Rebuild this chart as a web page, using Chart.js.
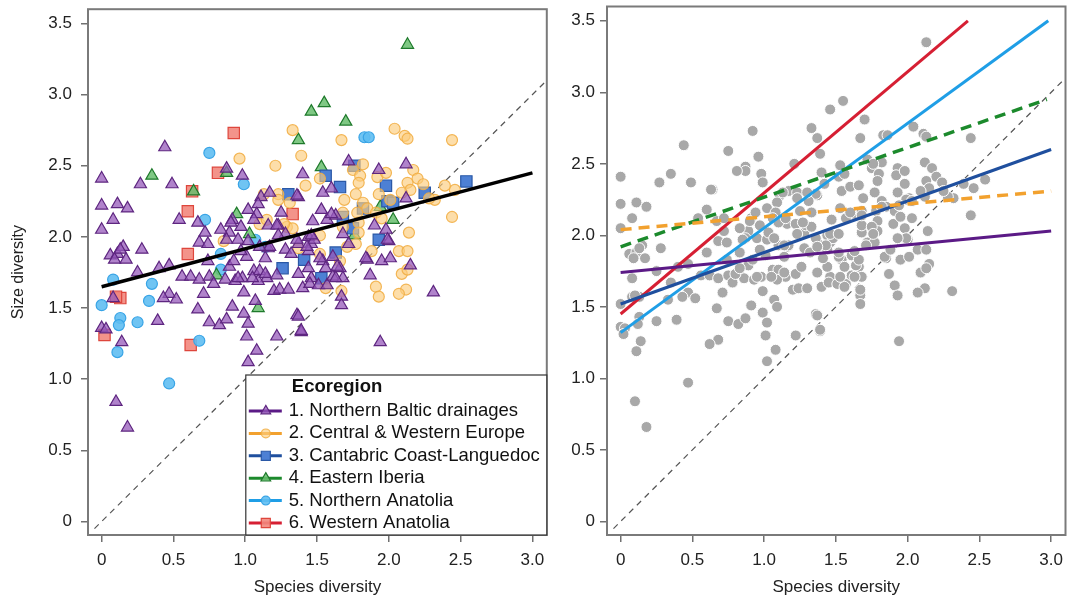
<!DOCTYPE html>
<html>
<head>
<meta charset="utf-8">
<title>Size vs species diversity by ecoregion</title>
<script src="https://cdn.jsdelivr.net/npm/chart.js@4.4.1/dist/chart.umd.min.js"></script>
<style>
  html, body { margin: 0; padding: 0; background: #fff; }
  #wrap { position: relative; width: 1072px; height: 602px; }
  #left-box { position: absolute; left: 0; top: 0; width: 556px; height: 602px; }
  #right-box { position: absolute; left: 556px; top: 0; width: 516px; height: 602px; }
</style>
</head>
<body>
<div id="wrap">
  <div id="left-box"><canvas id="left-chart"></canvas></div>
  <div id="right-box"><canvas id="right-chart"></canvas></div>
</div>
<script>
// Size diversity vs species diversity, two panels
// left: points by ecoregion + overall fit, right: all points grey + per-region fits

const ecoregionNames = [
  '1. Northern Baltic drainages',
  '2. Central & Western Europe',
  '3. Cantabric Coast-Languedoc',
  '4. Eastern Iberia',
  '5. Northern Anatolia',
  '6. Western Anatolia'
];

// [species diversity, size diversity]
const baltic = [
  [0.00,2.41],[0.44,2.63],[0.27,2.37],[0.49,2.37],[0.87,2.48],[0.98,2.43],[1.11,2.28],[1.17,2.31],
  [0.00,2.22],[0.11,2.23],[0.18,2.20],[0.08,2.12],[0.00,2.05],[0.54,2.12],[0.67,2.10],[0.72,2.03],
  [0.68,1.96],[0.74,1.95],[0.06,1.87],[0.11,1.88],[0.15,1.93],[0.13,1.91],[0.17,1.84],[0.28,1.91],
  [0.09,1.84],[0.25,1.75],[0.40,1.78],[0.47,1.80],[0.56,1.72],[0.62,1.72],[0.68,1.70],[0.75,1.72],
  [0.47,1.60],[0.43,1.57],[0.52,1.56],[0.71,1.60],[0.08,1.57],[0.67,1.49],[0.39,1.41],[0.00,1.36],
  [0.03,1.35],[0.14,1.26],[0.75,1.40],[0.82,1.38],[0.87,1.42],[0.91,1.51],[0.99,1.46],[1.02,1.39],
  [1.07,1.55],[1.01,1.30],[1.08,1.20],[1.02,1.12],[0.86,1.70],[0.93,1.69],[0.98,1.71],[1.06,1.76],
  [1.10,1.76],[1.15,1.71],[1.20,1.62],[1.24,1.63],[1.30,1.63],[1.36,1.45],[1.39,1.33],[1.22,1.30],
  [0.89,1.79],[0.89,2.03],[0.95,1.98],[1.02,1.97],[1.01,1.86],[0.91,2.12],[1.02,2.19],[1.09,2.23],
  [1.25,2.17],[1.23,2.08],[1.28,2.02],[1.37,1.95],[1.28,1.91],[1.32,1.88],[1.46,1.95],[1.44,1.90],
  [1.16,1.92],[1.14,1.85],[1.09,1.69],[1.46,1.71],[1.40,1.64],[1.54,2.31],[1.60,2.34],[1.53,2.19],
  [1.47,2.11],[1.57,2.12],[1.63,2.15],[1.37,2.28],[1.44,2.00],[1.48,1.98],[1.68,2.02],[1.72,1.95],
  [1.90,2.08],[1.98,2.05],[2.00,1.97],[2.12,2.27],[1.54,1.83],[1.37,1.74],[1.45,1.67],[1.51,1.66],
  [1.57,1.66],[1.61,1.72],[1.66,1.78],[1.68,1.71],[1.67,1.58],[1.67,1.52],[1.85,1.84],[1.95,1.83],
  [2.01,1.85],[2.15,1.80],[1.87,1.73],[2.31,1.61],[1.37,1.44],[1.39,1.34],[1.94,1.26],[0.10,0.84],
  [0.18,0.66],[2.12,2.51],[1.93,2.47],[1.72,2.53],[1.40,2.44],[1.36,2.29],[1.08,2.16],[1.06,2.12],
  [0.97,2.07],[0.90,2.10],[0.83,2.05],[0.87,1.98],[1.16,2.08],[1.22,2.08],[1.23,2.01],[1.17,1.93],
  [1.10,1.93],[0.97,1.90],[1.36,1.98],[1.43,1.93],[1.46,2.01],[1.52,1.85],[1.44,1.78],[1.22,1.73],
  [1.14,1.74],[1.05,1.71],[0.95,1.71],[0.78,1.67],[0.92,1.83],[0.74,1.83],[1.60,2.16],[1.99,1.98],
  [1.61,1.86],[1.84,1.85],[1.56,1.78],[1.64,1.79],[1.63,1.71],[0.99,1.61]
];
const centralWest = [
  [0.96,2.55],[1.21,2.50],[1.13,2.30],[1.33,2.75],[1.67,2.68],[2.04,2.76],[2.11,2.71],[2.13,2.69],
  [2.44,2.68],[1.39,2.57],[1.82,2.51],[1.42,2.36],[1.75,2.47],[1.80,2.43],[1.92,2.42],[2.17,2.47],
  [2.20,2.41],[2.13,2.38],[2.24,2.37],[2.46,2.33],[1.79,2.38],[1.23,2.30],[1.69,2.26],[1.98,2.45],
  [2.15,2.33],[2.09,2.31],[1.77,2.30],[1.93,2.30],[1.82,2.24],[2.01,2.26],[1.85,2.20],[1.91,2.17],
  [1.78,2.17],[1.68,2.17],[2.32,2.26],[2.44,2.14],[1.95,2.13],[1.79,2.10],[1.68,2.07],[1.79,2.03],
  [2.14,2.03],[1.77,1.95],[1.71,1.93],[1.88,1.90],[2.07,1.90],[2.13,1.90],[2.09,1.74],[1.66,1.83],
  [1.91,1.65],[2.12,1.63],[1.56,1.64],[1.93,1.58],[2.07,1.60],[1.52,1.88],[1.37,1.92],[1.67,1.62],
  [1.52,2.41],[1.23,2.26],[1.31,2.24],[1.10,2.09],[1.15,2.12],[1.29,2.07],[1.33,2.06],[1.27,2.09],
  [1.52,2.01],[0.85,1.97],[2.39,2.36],[2.28,2.27],[2.13,1.77]
];
const cantabric = [
  [1.76,2.50],[1.56,2.43],[1.66,2.35],[1.98,2.36],[2.25,2.31],[2.54,2.39],[1.30,2.30],[1.99,2.25],
  [2.03,2.24],[1.82,2.20],[1.68,2.14],[1.75,2.06],[1.93,1.98],[1.63,1.89],[1.41,1.84],[1.53,1.71],
  [1.26,1.78]
];
const easternIberia = [
  [0.35,2.43],[0.87,2.45],[0.64,2.32],[2.13,3.35],[1.55,2.94],[1.46,2.88],[1.70,2.81],[1.37,2.68],
  [1.53,2.49],[1.94,2.21],[2.03,2.12],[0.94,2.16],[1.03,2.02],[0.80,1.73],[1.09,1.50],[1.76,2.01]
];
const northAnatolia = [
  [0.75,2.59],[0.99,2.37],[1.83,2.70],[1.86,2.70],[0.72,2.12],[0.83,1.88],[0.83,1.77],[0.08,1.70],
  [0.35,1.67],[0.33,1.55],[0.00,1.52],[0.13,1.43],[0.12,1.38],[0.25,1.40],[0.68,1.27],[0.11,1.19],
  [0.47,0.97],[1.07,1.98],[1.14,1.93]
];
const westAnatolia = [
  [0.92,2.73],[0.81,2.45],[0.63,2.32],[0.60,2.18],[0.60,1.88],[0.13,1.57],[0.10,1.58],[1.33,2.16],
  [0.02,1.31],[0.62,1.24]
];

// overall fit (left) and per-region fits (right): start / end of each segment
const overallFitX = [0, 3.0];
const overallFitY = [1.65, 2.45];
const regionFitX0 = [0, 0, 0, 0, 0, 0];
const regionFitY0 = [1.74, 2.04, 1.52, 1.92, 1.32, 1.45];
const regionFitX1 = [3.0, 3.0, 3.0, 2.97, 2.98, 2.42];
const regionFitY1 = [2.03, 2.31, 2.60, 2.95, 3.50, 3.50];
const oneToOne = [-0.05, 3.1];

const xTicks = [0, 0.5, 1.0, 1.5, 2.0, 2.5, 3.0];
const yTicks = [0, 0.5, 1.0, 1.5, 2.0, 2.5, 3.0, 3.5];

const groups = [baltic, centralWest, cantabric, easternIberia, northAnatolia, westAnatolia];

const FONT = "'Liberation Sans', Arial, sans-serif";
const X_MIN = -0.095, X_MAX = 3.1, Y_MIN = -0.095, Y_MAX = 3.6;

const groupStyles = [
  { shape: 'triangle', r: 7,   fill: 'rgba(150, 90, 185, 0.75)', edge: '#5e2680', line: '#5b1a86', dash: [] },
  { shape: 'circle',   r: 5.5, fill: 'rgba(252, 205, 125, 0.65)', edge: 'rgba(242, 175, 70, 0.9)', line: '#f2a12e', dash: [11, 7] },
  { shape: 'rect',     r: 8,   fill: '#4d80d4', edge: '#2a58a6', line: '#1f4f9e', dash: [] },
  { shape: 'triangle', r: 7,   fill: 'rgba(105, 190, 110, 0.85)', edge: '#1f7a2c', line: '#1c8a2c', dash: [11, 7] },
  { shape: 'circle',   r: 5.5, fill: 'rgba(95, 190, 242, 0.9)', edge: '#38a4e6', line: '#1f9ee6', dash: [] },
  { shape: 'rect',     r: 8,   fill: 'rgba(242, 135, 125, 0.9)', edge: '#de463c', line: '#d61f33', dash: [] }
];

function toXY(pts) {
  return pts.map(p => ({ x: p[0], y: p[1] }));
}

function segment(x0, y0, x1, y1) {
  return [{ x: x0, y: y0 }, { x: x1, y: y1 }];
}

function tickLabel(v) {
  return v === 0 ? '0' : v.toFixed(1);
}

function xAxis() {
  return {
    type: 'linear',
    min: X_MIN,
    max: X_MAX,
    afterBuildTicks: s => { s.ticks = xTicks.map(v => ({ value: v })); },
    afterFit: s => { s.height = 67; s.paddingLeft = 0; s.paddingRight = 0; },
    grid: { display: true, drawOnChartArea: false, drawTicks: true, tickLength: 7, color: '#707070', lineWidth: 1.5 },
    border: { display: false },
    ticks: { autoSkip: false, maxRotation: 0, padding: 8, color: '#222', font: { size: 17, family: FONT }, callback: tickLabel },
    title: { display: true, text: 'Species diversity', color: '#222', font: { size: 17, family: FONT }, padding: { top: 0, bottom: 4 } }
  };
}

function yAxis(width, pad, withTitle) {
  return {
    type: 'linear',
    min: Y_MIN,
    max: Y_MAX,
    afterBuildTicks: s => { s.ticks = yTicks.map(v => ({ value: v })); },
    afterFit: s => { s.width = width; s.paddingTop = 0; s.paddingBottom = 0; },
    grid: { display: true, drawOnChartArea: false, drawTicks: true, tickLength: 7, color: '#707070', lineWidth: 1.5 },
    border: { display: false },
    ticks: { autoSkip: false, padding: pad, color: '#222', font: { size: 17, family: FONT }, callback: tickLabel },
    title: { display: withTitle, text: 'Size diversity', color: '#222', font: { size: 16, family: FONT }, padding: { top: 9, bottom: 0 } }
  };
}

// box round the plot area
const framePlugin = {
  id: 'frame',
  afterDatasetsDraw(chart) {
    const a = chart.chartArea;
    const ctx = chart.ctx;
    ctx.save();
    ctx.strokeStyle = '#7a7a7a';
    ctx.lineWidth = 2;
    ctx.strokeRect(a.left, a.top, a.right - a.left, a.bottom - a.top);
    ctx.restore();
  }
};

// legend box in the lower right of the left panel
const legendPlugin = {
  id: 'ecoLegend',
  afterDatasetsDraw(chart) {
    const a = chart.chartArea;
    const ctx = chart.ctx;
    const w = 301, h = 160;
    const x0 = a.right - w, y0 = a.bottom - h;
    ctx.save();
    ctx.fillStyle = '#fff';
    ctx.fillRect(x0, y0, w, h);
    ctx.strokeStyle = '#333';
    ctx.lineWidth = 1.2;
    ctx.strokeRect(x0, y0, w, h);
    ctx.textBaseline = 'middle';
    ctx.textAlign = 'left';
    ctx.fillStyle = '#111';
    ctx.font = 'bold 18.5px ' + FONT;
    ctx.fillText('Ecoregion', x0 + 46, y0 + 12);
    ctx.font = '18.5px ' + FONT;
    ecoregionNames.forEach((name, i) => {
      const st = groupStyles[i];
      const y = y0 + 36 + i * 22.4;
      ctx.strokeStyle = st.line;
      ctx.lineWidth = 3;
      ctx.beginPath();
      ctx.moveTo(x0 + 3, y);
      ctx.lineTo(x0 + 36, y);
      ctx.stroke();
      ctx.fillStyle = st.fill;
      ctx.strokeStyle = st.edge;
      ctx.lineWidth = 1.2;
      Chart.helpers.drawPoint(ctx, { pointStyle: st.shape, radius: st.r * 0.8, rotation: 0, borderWidth: 1.2 }, x0 + 20, y);
      ctx.fillStyle = '#111';
      ctx.fillText(name, x0 + 43, y);
    });
    ctx.restore();
  }
};

document.addEventListener('DOMContentLoaded', function () {
  // ---- left panel ----
  const leftSets = [];
  leftSets.push({
    label: 'Overall fit',
    data: segment(overallFitX[0], overallFitY[0], overallFitX[1], overallFitY[1]),
    showLine: true, borderColor: '#000', borderWidth: 3.5, pointRadius: 0
  });
  groups.forEach((pts, i) => {
    const st = groupStyles[i];
    leftSets.push({
      label: ecoregionNames[i],
      data: toXY(pts),
      pointStyle: st.shape,
      pointRadius: st.r,
      pointHoverRadius: st.r,
      backgroundColor: st.fill,
      borderColor: st.edge,
      pointBorderWidth: 1.2
    });
  });
  leftSets.push({
    label: '1:1',
    data: segment(oneToOne[0], oneToOne[0], oneToOne[1], oneToOne[1]),
    showLine: true, borderColor: '#555', borderWidth: 1.2, borderDash: [6, 5], pointRadius: 0
  });

  new Chart(document.getElementById('left-chart'), {
    type: 'scatter',
    data: { datasets: leftSets },
    options: {
      responsive: true,
      maintainAspectRatio: false,
      animation: false,
      layout: { padding: { top: 3, right: 8, left: 0, bottom: 0 } },
      plugins: { legend: { display: false }, tooltip: { enabled: false } },
      scales: { x: xAxis(), y: yAxis(88, 9, true) }
    },
    plugins: [framePlugin, legendPlugin]
  });

  // ---- right panel ----
  const rightSets = [];
  groups.forEach((pts, i) => {
    const st = groupStyles[i];
    rightSets.push({
      label: ecoregionNames[i] + ' fit',
      data: segment(regionFitX0[i], regionFitY0[i], regionFitX1[i], regionFitY1[i]),
      showLine: true, borderColor: st.line, borderWidth: st.dash.length ? 3.5 : 3,
      borderDash: st.dash, pointRadius: 0
    });
  });
  rightSets.push({
    label: 'All sites',
    data: toXY([].concat(...groups)),
    pointStyle: 'circle',
    pointRadius: 5.5,
    backgroundColor: '#a8a8a8',
    borderColor: '#ffffff',
    pointBorderWidth: 1
  });
  rightSets.push({
    label: '1:1',
    data: segment(oneToOne[0], oneToOne[0], oneToOne[1], oneToOne[1]),
    showLine: true, borderColor: '#555', borderWidth: 1.2, borderDash: [6, 5], pointRadius: 0
  });

  new Chart(document.getElementById('right-chart'), {
    type: 'scatter',
    data: { datasets: rightSets },
    options: {
      responsive: true,
      maintainAspectRatio: false,
      animation: false,
      layout: { padding: { top: 3, right: 4, left: 0, bottom: 0 } },
      plugins: { legend: { display: false }, tooltip: { enabled: false } },
      scales: { x: xAxis(), y: yAxis(51, 5, false) }
    },
    plugins: [framePlugin]
  });
});
</script>
</body>
</html>
